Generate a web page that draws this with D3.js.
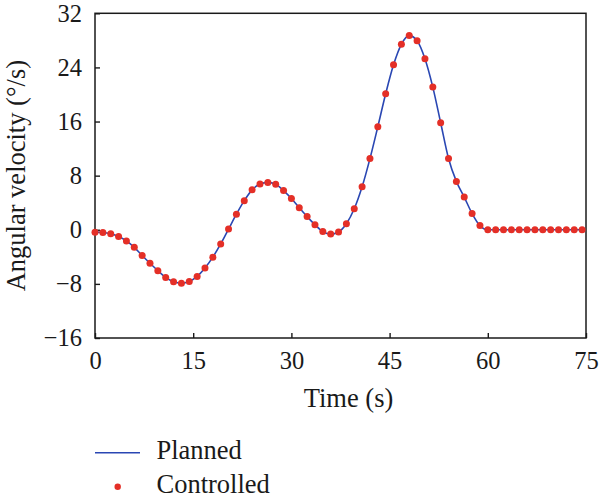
<!DOCTYPE html>
<html>
<head>
<meta charset="utf-8">
<script src="https://cdn.jsdelivr.net/npm/d3@7/dist/d3.min.js"></script>
<style>
  html, body { margin: 0; padding: 0; background: #fff; }
  svg { display: block; }
  text { font-family: "Liberation Serif", "DejaVu Serif", serif; fill: #1a1a1a; }
</style>
</head>
<body>
<svg id="chart" width="600" height="503"></svg>
<script>
// Time samples (s)
const time = [
  0, 1.2, 2.4, 3.6, 4.8, 6, 7.2, 8.4, 9.6, 10.8,
  12, 13.2, 14.4, 15.6, 16.8, 18, 19.2, 20.4, 21.6, 22.8,
  24, 25.2, 26.4, 27.6, 28.8, 30, 31.2, 32.4, 33.6, 34.8,
  36, 37.2, 38.4, 39.6, 40.8, 42, 43.2, 44.4, 45.6, 46.8,
  48, 49.2, 50.4, 51.6, 52.8, 54, 55.2, 56.4, 57.6, 58.8,
  60, 61.2, 62.4, 63.6, 64.8, 66, 67.2, 68.4, 69.6, 70.8,
  72, 73.2, 74.4
];
// Planned angular velocity (°/s)
const planned = [
  -0.35, -0.4, -0.6, -1.0, -1.65, -2.6, -3.8, -4.95, -6.05, -7.05,
  -7.7, -7.9, -7.65, -6.9, -5.65, -4.05, -2.1, 0.1, 2.3, 4.3,
  5.9, 6.75, 7.0, 6.72, 5.8, 4.62, 3.25, 1.95, 0.74, -0.27,
  -0.64, -0.32, 0.89, 3.1, 6.35, 10.52, 15.23, 20.1, 24.39, 27.42,
  28.7, 27.94, 25.28, 21.09, 15.82, 10.54, 7.15, 4.83, 2.4, 0.62,
  0, 0, 0, 0, 0, 0, 0, 0, 0, 0,
  0, 0, 0
];
// Controlled angular velocity (°/s)
const controlled = [
  -0.35, -0.4, -0.6, -1.0, -1.65, -2.6, -3.8, -4.95, -6.05, -7.05,
  -7.7, -7.9, -7.65, -6.9, -5.65, -4.05, -2.1, 0.1, 2.3, 4.3,
  5.9, 6.75, 7.0, 6.72, 5.8, 4.62, 3.25, 1.95, 0.74, -0.27,
  -0.64, -0.32, 0.89, 3.1, 6.35, 10.52, 15.23, 20.1, 24.39, 27.42,
  28.7, 27.94, 25.28, 21.09, 15.82, 10.54, 7.15, 4.83, 2.4, 0.62,
  0, 0, 0, 0, 0, 0, 0, 0, 0, 0,
  0, 0, 0
];
const xTicks = [0, 15, 30, 45, 60, 75];
const yTicks = [-16, -8, 0, 8, 16, 24, 32];
const seriesNames = ["Planned", "Controlled"];

const svg = d3.select("#chart");
const mLeft = 95, mRight = 586, mTop = 13.3, mBottom = 338;
const x = d3.scaleLinear().domain([0, 75]).range([mLeft, mRight]);
const y = d3.scaleLinear().domain([-16, 32]).range([mBottom, mTop]);

const lineColor = "#2a47b3";
const dotColor = "#e42f27";

// axes
const xAxis = d3.axisBottom(x).tickValues(xTicks).tickSizeInner(-5).tickSizeOuter(0).tickPadding(14).tickFormat(d3.format("d"));
const yAxis = d3.axisLeft(y).tickValues(yTicks).tickSizeInner(-5).tickSizeOuter(0).tickPadding(13).tickFormat(d3.format("d"));

const gx = svg.append("g").attr("transform", `translate(0,${mBottom})`).call(xAxis);
const gy = svg.append("g").attr("transform", `translate(${mLeft},0)`).call(yAxis);
[gx, gy].forEach(g => {
  g.select(".domain").remove();
  g.selectAll(".tick line").attr("stroke", "#1a1a1a").attr("stroke-width", 1.4);
  g.selectAll(".tick text").style("font-size", "24.5px").attr("fill", "#1a1a1a");
});

// frame
svg.append("rect")
  .attr("x", mLeft).attr("y", mTop)
  .attr("width", mRight - mLeft).attr("height", mBottom - mTop)
  .attr("fill", "none").attr("stroke", "#1a1a1a").attr("stroke-width", 1.5);

// planned line
const pts = time.map((t, i) => ({ t, p: planned[i], c: controlled[i] }));
svg.append("path")
  .datum(pts)
  .attr("fill", "none")
  .attr("stroke", lineColor)
  .attr("stroke-width", 1.6)
  .attr("d", d3.line().x(d => x(d.t)).y(d => y(d.p)).curve(d3.curveMonotoneX));

// controlled points
svg.append("g").selectAll("circle")
  .data(pts)
  .join("circle")
  .attr("cx", d => x(d.t))
  .attr("cy", d => y(d.c))
  .attr("r", 3.5)
  .attr("fill", dotColor);

// axis titles
svg.append("text")
  .attr("x", 348.5).attr("y", 406.5)
  .attr("text-anchor", "middle")
  .style("font-size", "26.5px")
  .text("Time (s)");

svg.append("text")
  .attr("transform", `translate(25,${(mTop + mBottom) / 2}) rotate(-90)`)
  .attr("text-anchor", "middle")
  .style("font-size", "26.5px")
  .text("Angular velocity (°/s)");

// legend
const lg = svg.append("g");
lg.append("line")
  .attr("x1", 95).attr("x2", 140).attr("y1", 452.7).attr("y2", 452.7)
  .attr("stroke", lineColor).attr("stroke-width", 1.6);
lg.append("text").attr("x", 156.5).attr("y", 459.3).style("font-size", "26.5px").text(seriesNames[0]);
lg.append("circle").attr("cx", 117.7).attr("cy", 486.7).attr("r", 3.2).attr("fill", dotColor);
lg.append("text").attr("x", 156.5).attr("y", 492.7).style("font-size", "26.5px").text(seriesNames[1]);
</script>
</body>
</html>
